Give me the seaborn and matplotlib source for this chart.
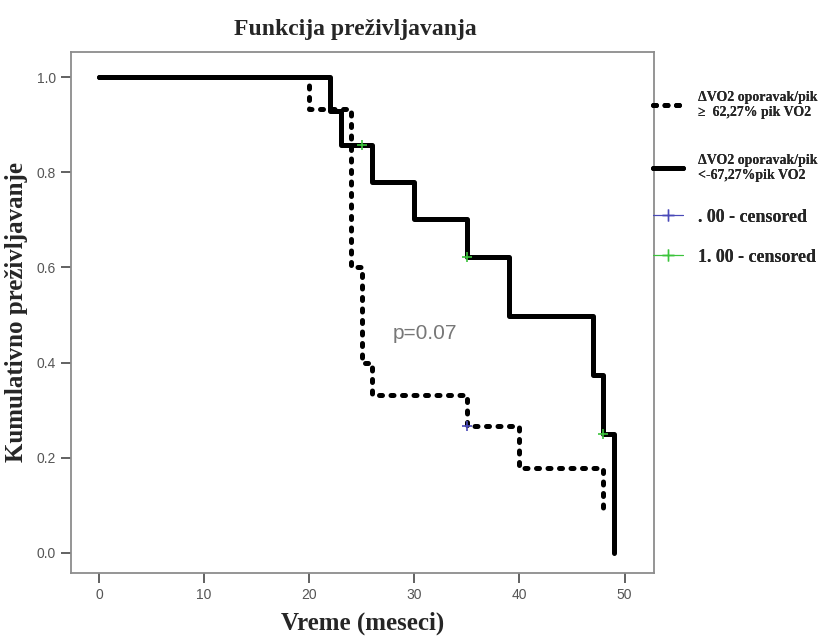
import matplotlib
matplotlib.use("Agg")
import matplotlib.pyplot as plt
from matplotlib.lines import Line2D
import pandas as pd
import seaborn as sns

# Kaplan-Meier step values per group (time in months, cumulative survival)
high_time = [0, 20, 24, 25, 26, 35, 40, 48]
high_surv = [1.0, 0.933, 0.600, 0.400, 0.333, 0.267, 0.178, 0.089]
low_time = [0, 22, 23, 26, 30, 35, 39, 47, 48, 49]
low_surv = [1.0, 0.929, 0.857, 0.779, 0.701, 0.623, 0.499, 0.374, 0.250, 0.0]

# Censored observations
high_cens_time = [35]
high_cens_surv = [0.267]
low_cens_time = [25, 35, 48]
low_cens_surv = [0.857, 0.623, 0.250]

group_labels = ["\u0394VO2 oporavak/pik\n\u2265  62,27% pik VO2",
                "\u0394VO2 oporavak/pik\n<-67,27%pik VO2"]
cens_labels = [". 00 - censored", "1. 00 - censored"]
x_ticks = [0, 10, 20, 30, 40, 50]
y_ticks = [0.0, 0.2, 0.4, 0.6, 0.8, 1.0]

sns.set_theme(style="white")
plt.rcParams["font.family"] = ["Liberation Sans", "DejaVu Sans"]

curves = pd.concat([
    pd.DataFrame({"t": high_time, "s": high_surv, "g": group_labels[0]}),
    pd.DataFrame({"t": low_time, "s": low_surv, "g": group_labels[1]}),
])

DOTTED = (0, (0.6, 1.7))
LW = 3.6

fig = plt.figure(figsize=(8.4, 6.37), dpi=100)
ax = fig.add_axes([0.0845, 0.1005, 0.694, 0.818])

sns.lineplot(data=curves[curves.g == group_labels[0]], x="t", y="s",
             estimator=None, sort=False, drawstyle="steps-post",
             color="black", lw=LW, linestyle=DOTTED, dash_capstyle="round",
             ax=ax)
sns.lineplot(data=curves[curves.g == group_labels[1]], x="t", y="s",
             estimator=None, sort=False, drawstyle="steps-post",
             color="black", lw=LW, ax=ax)

sns.scatterplot(x=high_cens_time, y=high_cens_surv, marker="+", s=45,
                color="#4a4ab8", linewidth=1.2, ax=ax, zorder=5)
sns.scatterplot(x=low_cens_time, y=low_cens_surv, marker="+", s=45,
                color="#3cc43c", linewidth=1.2, ax=ax, zorder=5)

ax.set_xlim(-2.66, 52.8)
ax.set_ylim(-0.042, 1.053)
ax.set_xticks(x_ticks)
ax.set_yticks(y_ticks)
ax.set_xticklabels([str(v) for v in x_ticks])
ax.set_yticklabels([f"{v:.1f}" for v in y_ticks])
for sp in ax.spines.values():
    sp.set_color("#8c8c8c")
    sp.set_linewidth(1.3)
ax.tick_params(axis="both", direction="out", length=7, width=1.3,
               color="#555555", labelcolor="#555555", labelsize=10, pad=4,
               bottom=True, left=True)

ax.text(31.0, 0.462, "p=0.07", ha="center", va="center", fontsize=15,
        color="#777777")

serif = ["Liberation Serif", "DejaVu Serif"]
ax.set_title("Funkcija pre\u017eivljavanja", fontsize=17, fontweight="bold",
             family=serif, pad=12, x=0.487)
ax.set_xlabel("Vreme (meseci)", fontsize=18, fontweight="bold", family=serif,
              labelpad=7)
ax.set_ylabel("Kumulativno pre\u017eivljavanje", fontsize=18,
              fontweight="bold", family=serif, labelpad=6)

# Legend entries, each positioned beside the plot
entries = [
    (Line2D([], [], color="black", lw=LW, linestyle=DOTTED,
            dash_capstyle="round"), group_labels[0], 10, 105),
    (Line2D([], [], color="black", lw=LW), group_labels[1], 10, 168),
    (Line2D([], [], color="#4a4ab8", lw=0.8, marker="+", markersize=9,
            markeredgewidth=1.0), cens_labels[0], 13, 217),
    (Line2D([], [], color="#3cc43c", lw=0.8, marker="+", markersize=9,
            markeredgewidth=1.0), cens_labels[1], 13, 257),
]
for handle, label, fs, ypix in entries:
    leg = fig.legend(handles=[handle], labels=[label], loc="center left",
                     bbox_to_anchor=(653 / 840, 1 - ypix / 637),
                     frameon=False, handlelength=30 / fs * 72 / 100,
                     handletextpad=15 / fs * 72 / 100,
                     borderpad=0, borderaxespad=0,
                     prop={"family": serif, "weight": "bold", "size": fs})
    fig.add_artist(leg)

fig.savefig("out.png", dpi=100)
